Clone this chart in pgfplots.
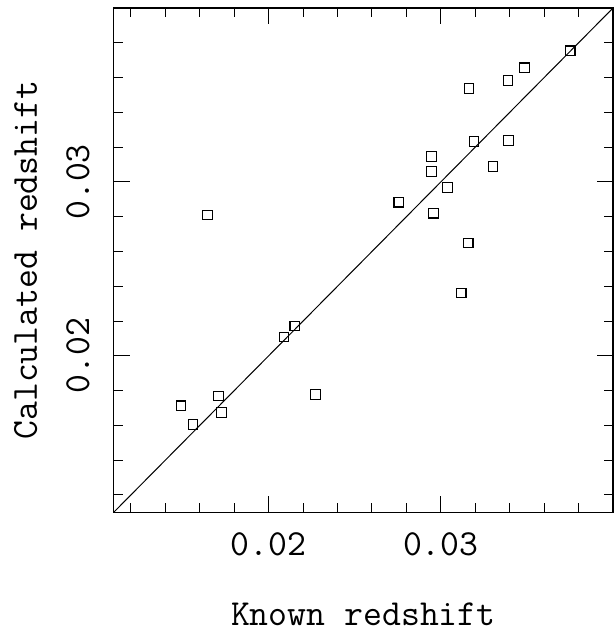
\documentclass[border=0pt]{standalone}
\usepackage{pgfplots}
\pgfplotsset{compat=1.18}

% known vs calculated redshift
\pgfplotstableread{
x y
0.03751 0.03754
0.03486 0.03656
0.03389 0.03582
0.03164 0.03536
0.03193 0.03232
0.03394 0.03238
0.02946 0.03146
0.02946 0.03060
0.03302 0.03089
0.03038 0.02968
0.02756 0.02883
0.02957 0.02820
0.03159 0.02648
0.03118 0.02361
0.01646 0.02810
0.02152 0.02172
0.02089 0.02109
0.02273 0.01777
0.01710 0.01770
0.01727 0.01673
0.01491 0.01713
0.01560 0.01605
}\redshift

\begin{document}
\begin{tikzpicture}
\begin{axis}[
    name=ax,
    scale only axis,
    width=250.5pt, height=253pt,
    xmin=0.011, xmax=0.04,
    ymin=0.011, ymax=0.04,
    scaled ticks=false,
    axis line style={line width=0.6pt},
    xtick={0.02,0.03}, xticklabels={0.02,0.03},
    ytick={0.02,0.03}, yticklabels={0.02,0.03},
    minor xtick={0.012,0.014,0.016,0.018,0.022,0.024,0.026,0.028,0.032,0.034,0.036,0.038},
    minor ytick={0.012,0.014,0.016,0.018,0.022,0.024,0.026,0.028,0.032,0.034,0.036,0.038},
    tick align=inside,
    tick pos=both,
    major tick length=8pt,
    minor tick length=4.5pt,
    every tick/.style={black, line width=0.5pt},
    font=\fontsize{18.4}{20}\selectfont\ttfamily,
    xticklabel style={anchor=base},
    xticklabel shift=21.5pt,
    yticklabel style={rotate=90, anchor=base},
    yticklabel shift=12.25pt,
    xlabel={Known redshift},
    ylabel={Calculated redshift},
    every axis x label/.style={at={(axis description cs:0.5,-0.224)}, anchor=base},
    every axis y label/.style={at={(axis description cs:-0.1537,0.5)}, rotate=90, anchor=base},
]
\addplot[black, line width=0.5pt] coordinates {(0.011,0.011) (0.04,0.04)};
\addplot[only marks, mark=square, mark size=2.4pt, mark options={line width=0.55pt, black}] table[x=x, y=y] {\redshift};
\end{axis}
\pgfresetboundingbox
\path ([xshift=-57pt, yshift=-60pt]ax.south west) rectangle ([xshift=1pt, yshift=4pt]ax.north east);
\end{tikzpicture}
\end{document}
